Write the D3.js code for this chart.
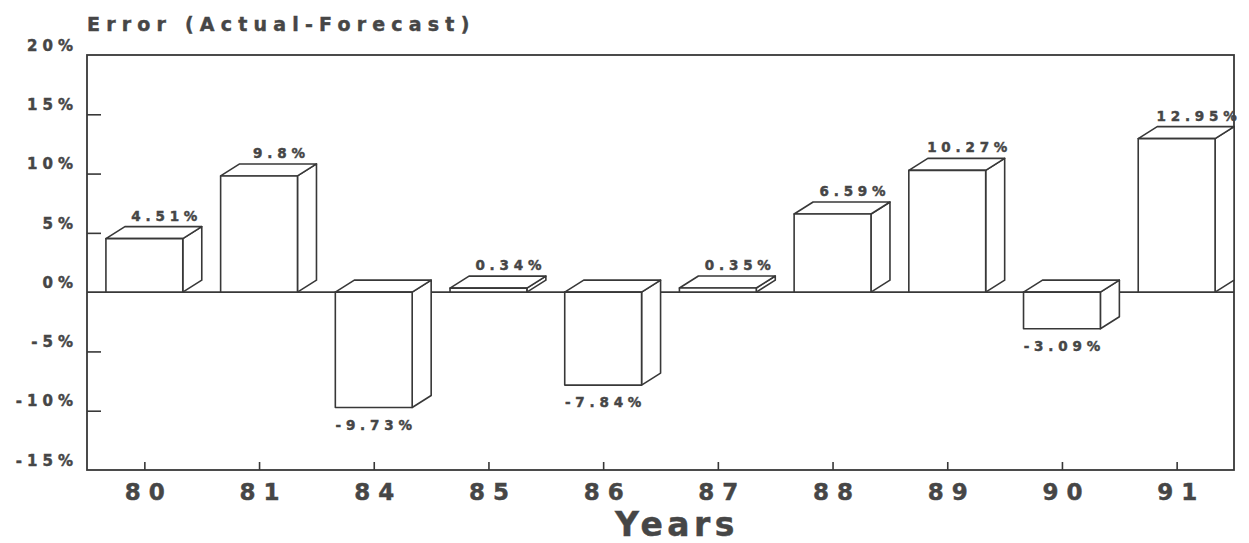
<!DOCTYPE html>
<html>
<head>
<meta charset="utf-8">
<script src="https://cdn.jsdelivr.net/npm/d3@7/dist/d3.min.js"></script>
<style>
  html, body { margin: 0; padding: 0; background: #fff; }
  svg { display: block; }
  text { font-family: "DejaVu Sans", sans-serif; font-weight: bold; fill: #464646;
         stroke: #464646; stroke-width: 0.45px; }
</style>
</head>
<body>
<svg id="chart" width="1249" height="543"></svg>
<script>
// Forecast error by year, in percent
const years = ["80", "81", "84", "85", "86", "87", "88", "89", "90", "91"];
const errors = [4.51, 9.8, -9.73, 0.34, -7.84, 0.35, 6.59, 10.27, -3.09, 12.95];
const errorLabels = ["4.51%", "9.8%", "-9.73%", "0.34%", "-7.84%", "0.35%", "6.59%", "10.27%", "-3.09%", "12.95%"];
const yTicks = [20, 15, 10, 5, 0, -5, -10, -15];

(function draw() {
  const ink = "#383838";
  const textInk = "#464646";
  const svg = d3.select("#chart");
  const W = 1249, H = 543;
  const pLeft = 87, pRight = 1234, pTop = 55, pBottom = 470;
  const depthX = 19, depthY = 12;

  svg.append("rect").attr("width", W).attr("height", H).attr("fill", "#fff");

  const y = d3.scaleLinear().domain([-15, 20]).range([pBottom, pTop]);
  const xBand = d3.scaleBand().domain(years).range([pLeft, pRight]);
  const xFront = d3.scaleBand().domain(years).range([pLeft, pRight])
    .paddingInner(0.33).paddingOuter(0.165);
  const data = years.map((yr, i) => ({ yr, v: errors[i], label: errorLabels[i] }));

  // Plot frame
  svg.append("rect")
    .attr("x", pLeft).attr("y", pTop)
    .attr("width", pRight - pLeft).attr("height", pBottom - pTop)
    .attr("fill", "none").attr("stroke", ink).attr("stroke-width", 1.8);

  const axisText = sel => sel
    .style("fill", textInk).style("stroke", textInk).style("stroke-width", "0.45px")
    .style("font-family", "DejaVu Sans").style("font-weight", "bold");

  // Y axis: inward ticks, labels raised above each tick
  const yAxis = svg.append("g")
    .attr("transform", `translate(${pLeft},0)`)
    .call(d3.axisLeft(y).tickValues(yTicks).tickSize(-14).tickPadding(14)
      .tickFormat(d => d + "%"));
  yAxis.select(".domain").remove();
  yAxis.selectAll(".tick line").attr("stroke", ink).attr("stroke-width", 1.6)
    .filter(d => d === 20 || d === -15 || d === 0).remove();
  yAxis.selectAll(".tick text")
    .attr("dy", "-0.32em").attr("dx", 5)
    .style("font-size", "15px").style("letter-spacing", "5px")
    .call(axisText);

  // X axis: upward ticks at each year
  const xAxis = svg.append("g")
    .attr("transform", `translate(0,${pBottom})`)
    .call(d3.axisBottom(d3.scalePoint().domain(years)
        .range([pLeft + xBand.step() / 2, pRight - xBand.step() / 2]))
      .tickSize(-8).tickPadding(14));
  xAxis.select(".domain").remove();
  xAxis.selectAll(".tick line").attr("stroke", ink).attr("stroke-width", 1.6);
  xAxis.selectAll(".tick text")
    .attr("dy", "0.71em").attr("dx", 4)
    .style("font-size", "23px").style("letter-spacing", "8px")
    .call(axisText);

  // Zero line
  svg.append("line")
    .attr("x1", pLeft).attr("x2", pRight)
    .attr("y1", y(0)).attr("y2", y(0))
    .attr("stroke", ink).attr("stroke-width", 1.6);

  // 3D bars: side face, top face, front face
  const bars = svg.append("g").selectAll("g").data(data).join("g");
  bars.each(function(d) {
    const g = d3.select(this);
    const x0 = xFront(d.yr), x1 = x0 + xFront.bandwidth();
    const yHi = y(Math.max(d.v, 0)), yLo = y(Math.min(d.v, 0));
    const style = s => s.attr("fill", "#fff").attr("stroke", ink)
      .attr("stroke-width", 1.6).attr("stroke-linejoin", "round");
    g.append("polygon").call(style)
      .attr("points", [[x1, yHi], [x1 + depthX, yHi - depthY], [x1 + depthX, yLo - depthY], [x1, yLo]].join(" "));
    g.append("polygon").call(style)
      .attr("points", [[x0, yHi], [x0 + depthX, yHi - depthY], [x1 + depthX, yHi - depthY], [x1, yHi]].join(" "));
    g.append("rect").call(style)
      .attr("x", x0).attr("y", yHi).attr("width", x1 - x0).attr("height", Math.max(yLo - yHi, 0.5));
  });

  // Value labels
  bars.append("text")
    .attr("x", d => xFront(d.yr) + xFront.bandwidth() / 2 + (d.v >= 0 ? 20 : 0))
    .attr("y", d => d.v >= 0 ? y(d.v) - depthY - 6 : y(d.v) + 22)
    .attr("dx", 2.4)
    .attr("text-anchor", "middle")
    .style("font-size", "13.5px").style("letter-spacing", "4.8px")
    .text(d => d.label);

  // Titles
  svg.append("text")
    .attr("x", 87).attr("y", 31)
    .style("font-size", "19px").style("letter-spacing", "6.2px")
    .text("Error (Actual-Forecast)");

  svg.append("text")
    .attr("x", 677).attr("y", 536)
    .attr("text-anchor", "middle")
    .style("font-size", "33px").style("letter-spacing", "4.5px")
    .text("Years");
})();
</script>
</body>
</html>
